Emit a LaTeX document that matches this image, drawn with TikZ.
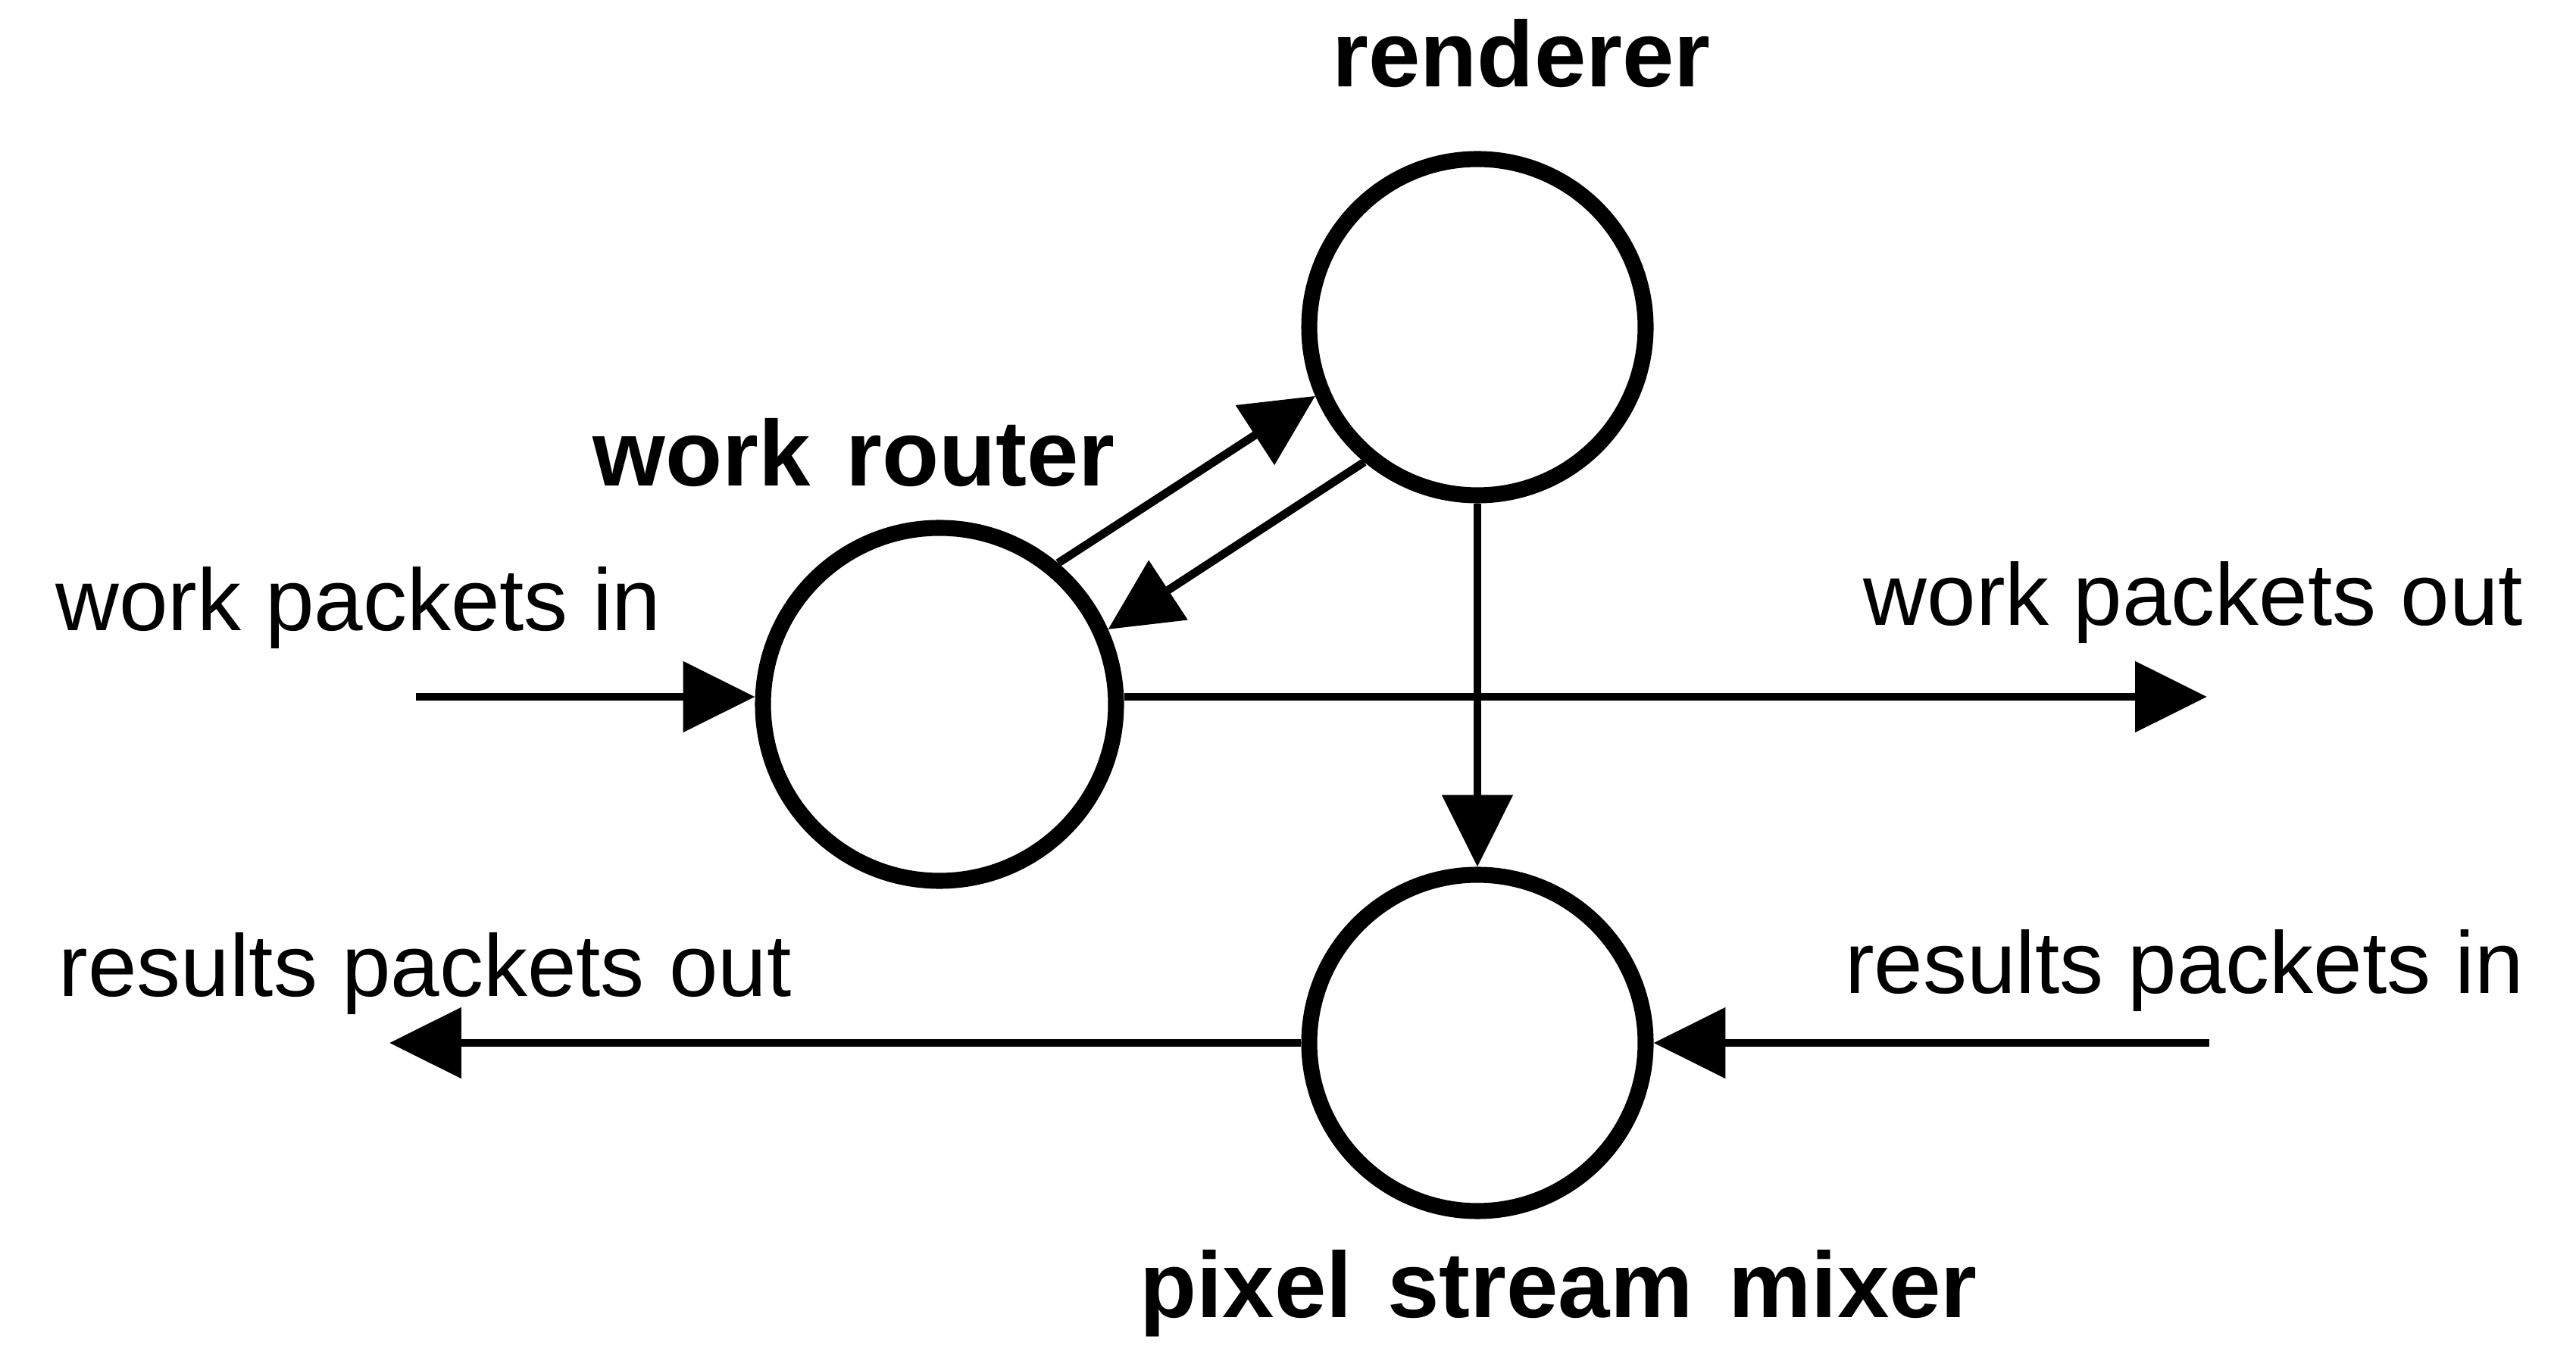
\documentclass[tikz,border=0pt]{standalone}
\usepackage{fontspec}
\setmainfont{Liberation Sans}
\usetikzlibrary{arrows.meta}
\newcommand{\wgap}{\hspace{0.38em}}
\begin{document}
\begin{tikzpicture}[
  proc/.style={circle, draw=black, line width=6pt, inner sep=0pt},
  bigproc/.style={proc, minimum size=4.66cm},
  smallproc/.style={proc, minimum size=4.44cm},
  conn/.style={draw=black, line width=3.1pt, -{Triangle[length=27pt, width=26pt]}},
  plainlbl/.style={anchor=base, inner sep=0pt, font=\fontsize{33}{40}\selectfont},
  boldlbl/.style={anchor=base, inner sep=0pt, font=\fontsize{35}{42}\selectfont\bfseries}
]
\useasboundingbox (0,0) rectangle (34,17.92);

% process circles
\node[bigproc] (router) at (12.40, 8.62) {};
\node[smallproc] (renderer) at (19.50, 13.60) {};
\node[smallproc] (mixer) at (19.50, 4.15) {};

% labels
\node[boldlbl] (lrenderer) at (20.08, 16.77) {renderer};
\node[boldlbl] (lrouter) at (11.27, 11.50) {work\wgap router};
\node[boldlbl] (lmixer) at (20.57, 0.53) {pixel\wgap stream\wgap mixer};
\node[plainlbl] (lwin) at (4.73, 9.59) {work packets in};
\node[plainlbl] (lwout) at (28.95, 9.66) {work packets out};
\node[plainlbl] (lrout) at (5.61, 4.76) {results packets out};
\node[plainlbl] (lrin) at (28.83, 4.80) {results packets in};

% free ends
\coordinate (win) at (5.49, 8.72);
\coordinate (wout) at (29.13, 8.72);
\coordinate (rin) at (29.16, 4.15);
\coordinate (rout) at (5.14, 4.15);

% connectors
\draw[conn] (win) -- (router.west |- win);
\draw[conn] (router.east |- wout) -- (wout);
\draw[conn] (router.50.7) -- (renderer.203.2);
\draw[conn] (renderer.230) -- (router.24.7);
\draw[conn] (renderer.south) -- (mixer.north);
\draw[conn] (rin) -- (mixer.east);
\draw[conn] (mixer.west) -- (rout);
\end{tikzpicture}
\end{document}
